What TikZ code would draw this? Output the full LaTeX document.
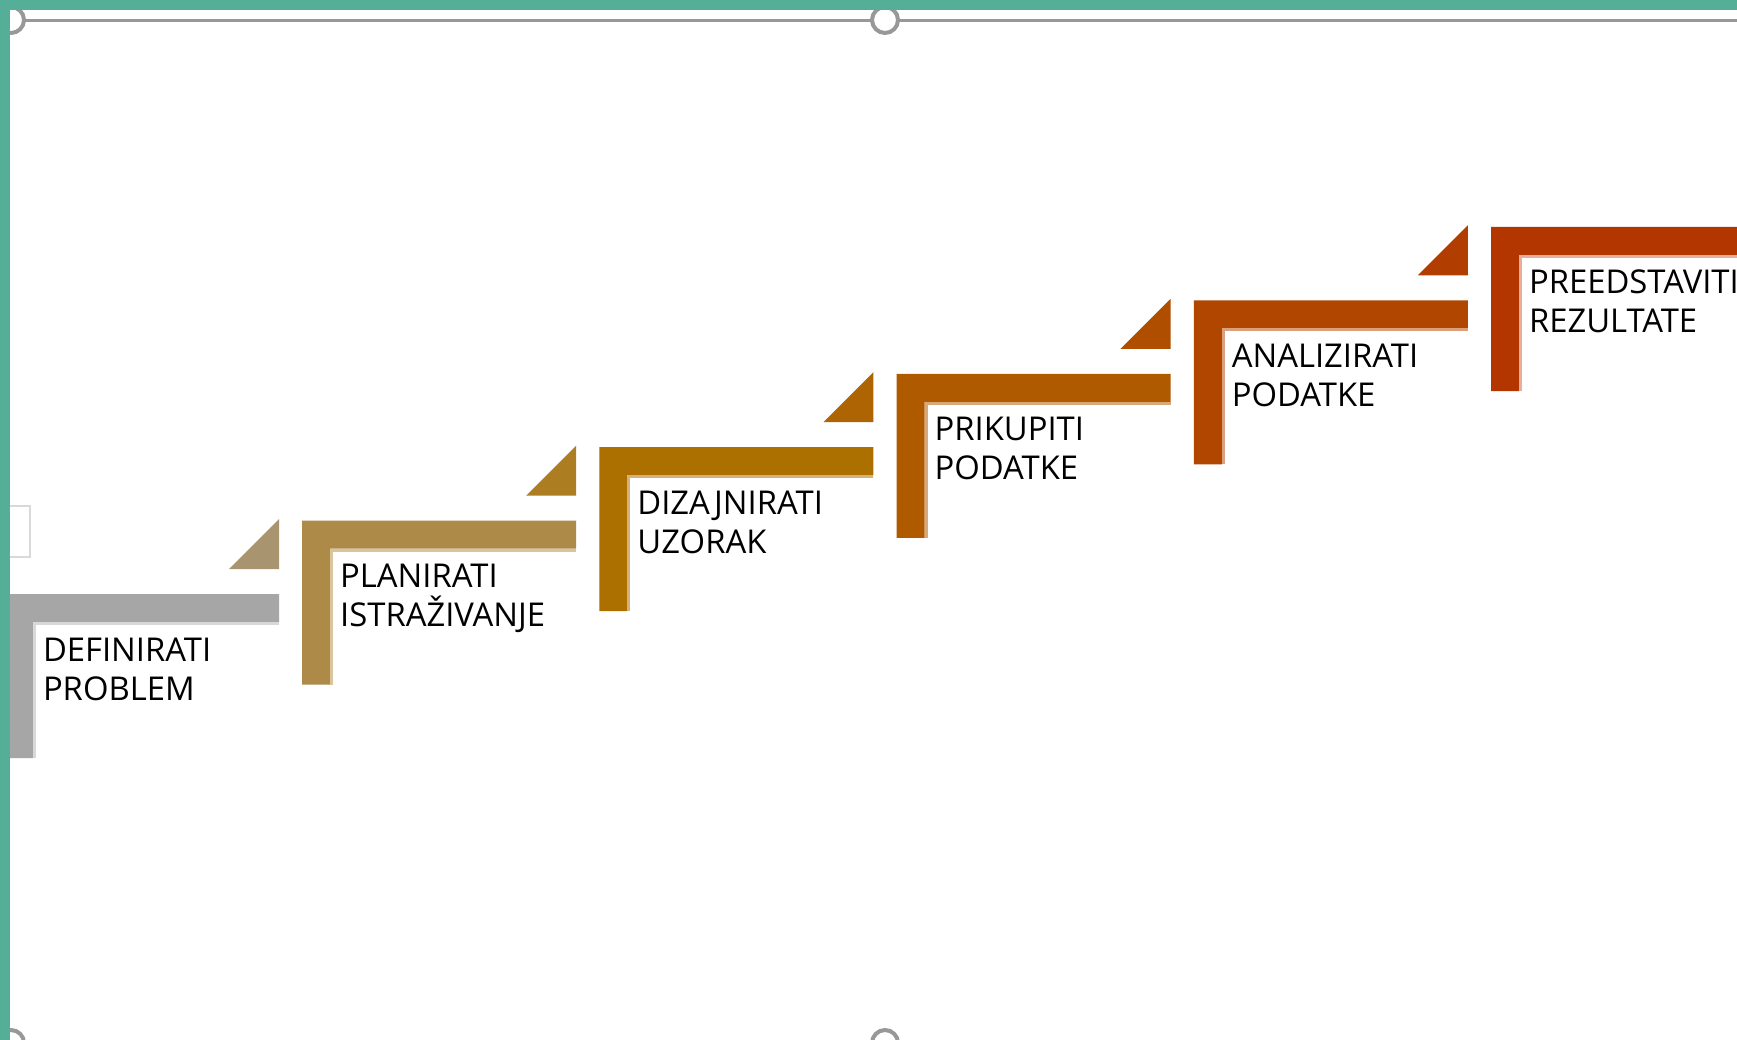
\documentclass[tikz,border=0pt]{standalone}
\usepackage{fontspec}
\setmainfont{Open Sans}
\definecolor{frameteal}{HTML}{55AE98}
\definecolor{handlegray}{HTML}{989898}
\definecolor{boxgray}{HTML}{D9D9D9}
\definecolor{stepc0}{HTML}{A6A6A6}
\definecolor{stepc1}{HTML}{AD8A47}
\definecolor{stepc2}{HTML}{AB7000}
\definecolor{stepc3}{HTML}{B05A00}
\definecolor{stepc4}{HTML}{B04600}
\definecolor{stepc5}{HTML}{B33600}
\definecolor{lightc0}{HTML}{D8D8D8}
\definecolor{lightc1}{HTML}{D9C49C}
\definecolor{lightc2}{HTML}{D6B27A}
\definecolor{lightc3}{HTML}{D8A879}
\definecolor{lightc4}{HTML}{DAA07C}
\definecolor{lightc5}{HTML}{E8AE9C}
\definecolor{tric0}{HTML}{A8956F}
\definecolor{tric1}{HTML}{AD7D22}
\definecolor{tric2}{HTML}{AE6402}
\definecolor{tric3}{HTML}{B04E00}
\definecolor{tric4}{HTML}{B13D00}
\begin{document}
\begin{tikzpicture}[x=1pt,y=-1pt,
  steptext/.style={anchor=base west, inner sep=0pt, outer sep=0pt, font=\fontsize{32.8}{38}\selectfont, text=black},
  handle/.style={draw=handlegray, line width=4pt, fill=white}]
\useasboundingbox (0,0) rectangle (1737,1040);
\clip (0,0) rectangle (1737,1040);
\fill[white] (0,0) rectangle (1737,1040);
% small box at left
\draw[boxgray, line width=2pt] (0,506) rectangle (30,557);
% steps
\foreach \i/\la/\lb in {0/DEFINIRATI/PROBLEM,1/PLANIRATI/ISTRAŽIVANJE,2/DIZAJNIRATI/UZORAK,3/PRIKUPITI/PODATKE,4/ANALIZIRATI/PODATKE,5/PREEDSTAVITI/REZULTATE}{
  \pgfmathsetmacro\L{5+297.2*\i}
  \pgfmathsetmacro\T{594-73.4*\i}
  \pgfmathsetmacro\R{\L+274}
  \fill[stepc\i] (\L,\T) -- (\R,\T) -- (\R,\T+28) -- (\L+28,\T+28) -- (\L+28,\T+164) -- (\L,\T+164) -- cycle;
  \draw[lightc\i, line width=3pt] (\R,\T+29.5) -- (\L+29.5,\T+29.5) -- (\L+29.5,\T+164);
  \ifnum\i<5
    \fill[tric\i] (\R-50,\T-25) -- (\R,\T-25) -- (\R,\T-75) -- cycle;
  \fi
  \node[steptext] (a\i) at (\L+38,\T+67) {\la};
  \node[steptext] (b\i) at (\L+38,\T+106) {\lb};
}
% selection frame line and handles
\draw[handlegray, line width=3pt] (11,20.5) -- (1737,20.5);
\draw[handle] (11,20) circle[radius=13pt];
\draw[handle] (885,20) circle[radius=13pt];
\draw[handle] (11,1043) circle[radius=13pt];
\draw[handle] (885,1043) circle[radius=13pt];
% teal window border
\fill[frameteal] (0,0) rectangle (1737,10);
\fill[frameteal] (0,0) rectangle (10,1040);
\end{tikzpicture}
\end{document}
